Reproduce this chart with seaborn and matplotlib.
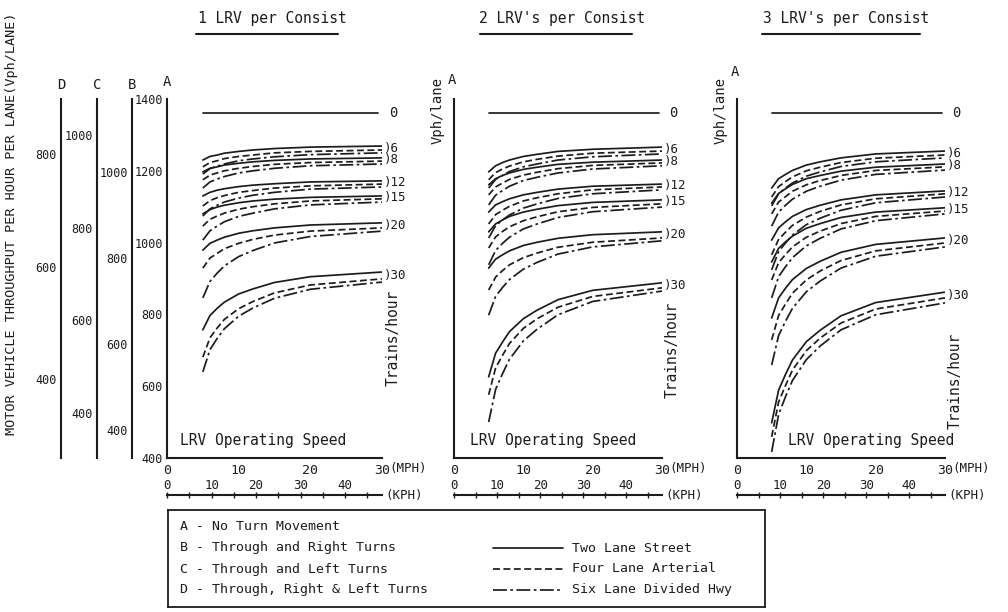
import matplotlib
matplotlib.use("Agg")
import matplotlib.pyplot as plt
from matplotlib.lines import Line2D
import pandas as pd
import seaborn as sns

# speeds (mph) and train frequencies (trains/hour)
mph = [5, 6, 7, 8, 10, 12, 15, 20, 30]
trains = [6, 8, 12, 15, 20, 30]
lanes = ["Two Lane Street", "Four Lane Arterial", "Six Lane Divided Hwy"]
zero_mph = [5, 29.5]
zero_vph = [1360, 1360]

# 1 LRV per consist (Vph/lane on scale A), one row per train frequency
lrv1_two = [[1230, 1240, 1244, 1249, 1254, 1258, 1262, 1266, 1269],
            [1197, 1207, 1211, 1216, 1221, 1225, 1229, 1233, 1236],
            [1130, 1140, 1146, 1150, 1156, 1160, 1164, 1169, 1172],
            [1080, 1092, 1099, 1104, 1111, 1116, 1121, 1126, 1130],
            [979, 998, 1007, 1015, 1026, 1033, 1041, 1049, 1055],
            [757, 797, 817, 834, 857, 871, 889, 905, 918]]
lrv1_four = [[1211, 1223, 1228, 1234, 1240, 1244, 1250, 1254, 1258],
             [1175, 1188, 1194, 1200, 1207, 1212, 1218, 1223, 1227],
             [1102, 1117, 1125, 1131, 1140, 1145, 1152, 1158, 1163],
             [1046, 1065, 1074, 1082, 1093, 1100, 1108, 1116, 1122],
             [929, 957, 970, 983, 998, 1009, 1021, 1032, 1041],
             [681, 735, 762, 786, 816, 836, 860, 882, 899]]
lrv1_six = [[1191, 1206, 1213, 1219, 1228, 1233, 1239, 1245, 1250],
            [1152, 1169, 1177, 1184, 1194, 1200, 1207, 1214, 1219],
            [1074, 1094, 1104, 1113, 1124, 1132, 1140, 1149, 1155],
            [1007, 1033, 1046, 1058, 1073, 1082, 1094, 1105, 1113],
            [846, 892, 915, 935, 961, 978, 999, 1017, 1032],
            [640, 702, 733, 760, 795, 818, 845, 870, 890]]

# 2 LRV's per consist
lrv2_two = [[1197, 1214, 1223, 1230, 1240, 1246, 1254, 1260, 1266],
            [1161, 1178, 1187, 1194, 1204, 1210, 1218, 1224, 1230],
            [1085, 1105, 1114, 1122, 1133, 1140, 1149, 1157, 1163],
            [1030, 1052, 1063, 1073, 1085, 1093, 1103, 1112, 1119],
            [929, 954, 966, 977, 992, 1001, 1012, 1022, 1030],
            [626, 692, 723, 752, 788, 812, 841, 867, 888]]
lrv2_four = [[1175, 1195, 1205, 1213, 1225, 1232, 1241, 1249, 1255],
             [1133, 1155, 1166, 1176, 1188, 1196, 1206, 1215, 1222],
             [1052, 1078, 1090, 1101, 1116, 1125, 1136, 1147, 1155],
             [985, 1016, 1031, 1044, 1061, 1072, 1086, 1098, 1108],
             [868, 904, 922, 938, 958, 971, 987, 1001, 1013],
             [576, 651, 686, 719, 761, 788, 820, 850, 874]]
lrv2_six = [[1152, 1176, 1187, 1198, 1211, 1219, 1230, 1239, 1247],
            [1105, 1132, 1145, 1157, 1173, 1182, 1194, 1205, 1214],
            [1013, 1047, 1063, 1077, 1096, 1108, 1123, 1136, 1147],
            [938, 978, 998, 1015, 1038, 1052, 1070, 1086, 1099],
            [798, 850, 875, 897, 926, 945, 968, 988, 1005],
            [500, 591, 635, 675, 726, 759, 799, 836, 865]]

# 3 LRV's per consist
lrv3_two = [[1152, 1178, 1190, 1201, 1216, 1225, 1236, 1247, 1255],
            [1110, 1137, 1150, 1162, 1178, 1187, 1199, 1210, 1219],
            [1007, 1041, 1058, 1073, 1092, 1104, 1119, 1133, 1144],
            [946, 984, 1002, 1018, 1040, 1053, 1070, 1085, 1097],
            [790, 846, 873, 897, 928, 948, 973, 995, 1013],
            [498, 589, 633, 673, 724, 756, 796, 833, 862]]
lrv3_four = [[1127, 1156, 1170, 1183, 1200, 1210, 1223, 1235, 1244],
             [1080, 1113, 1128, 1143, 1161, 1173, 1187, 1201, 1211],
             [966, 1009, 1029, 1048, 1071, 1087, 1105, 1122, 1136],
             [896, 944, 967, 988, 1015, 1032, 1053, 1073, 1088],
             [729, 797, 829, 859, 896, 921, 950, 977, 999],
             [459, 556, 602, 645, 699, 734, 776, 815, 846]]
lrv3_six = [[1102, 1136, 1152, 1166, 1185, 1197, 1212, 1225, 1236],
            [1046, 1085, 1104, 1121, 1143, 1157, 1174, 1190, 1202],
            [924, 975, 999, 1021, 1050, 1068, 1090, 1111, 1127],
            [846, 905, 933, 958, 991, 1012, 1038, 1061, 1080],
            [659, 741, 781, 817, 863, 893, 929, 962, 988],
            [417, 521, 571, 616, 674, 712, 757, 799, 832]]

titles = ["1 LRV per Consist", "2 LRV's per Consist", "3 LRV's per Consist"]
panels = [(lrv1_two, lrv1_four, lrv1_six),
          (lrv2_two, lrv2_four, lrv2_six),
          (lrv3_two, lrv3_four, lrv3_six)]

# long table for seaborn
rows = []
for p, sets in enumerate(panels):
    for lane, arr in zip(lanes, sets):
        for t, vals in zip(trains, arr):
            for m, v in zip(mph, vals):
                rows.append({"panel": p, "lane": lane, "trains": t, "mph": m, "vph": v})
df = pd.DataFrame(rows)

sns.set_style("white")
plt.rcParams["font.family"] = ["DejaVu Sans Mono"]
INK = "#1c1c1c"
plt.rcParams["text.color"] = INK
plt.rcParams["xtick.color"] = INK
plt.rcParams["ytick.color"] = INK

W, H = 1008, 612
fig = plt.figure(figsize=(W / 100, H / 100), dpi=100)
fig.patch.set_facecolor("white")


def rect(left, top, right, bottom):
    return [left / W, 1 - bottom / H, (right - left) / W, (bottom - top) / H]


def ftext(x, y, s, **kw):
    fig.text(x / W, 1 - y / H, s, **kw)


def hline(x1, x2, y, **kw):
    fig.add_artist(Line2D([x1 / W, x2 / W], [1 - y / H, 1 - y / H],
                          transform=fig.transFigure, color=INK, **kw))


dash_map = {"Two Lane Street": "", "Four Lane Arterial": (4, 2),
            "Six Lane Divided Hwy": (8, 2, 1.5, 2)}
TOP, BOT = 99, 458
panel_x = [(167, 382), (454, 662), (737, 945)]
title_pos = [(272, 196, 338), (562, 480, 632), (846, 762, 920)]
trains_lbl = [734, 701, 614]
speed_lbl_x = [1.8, 2.3, 7.4]
kph_max = 30 * 1.609

for p, (l, r) in enumerate(panel_x):
    ax = fig.add_axes(rect(l, TOP, r, BOT))
    ax.set_facecolor("none")
    sub = df[df["panel"] == p]
    sns.lineplot(data=sub, x="mph", y="vph", style="lane", style_order=lanes,
                 dashes=dash_map, units="trains", estimator=None, color=INK,
                 lw=1.25, legend=False, ax=ax)
    ax.plot(zero_mph, zero_vph, color=INK, lw=1.25)
    ax.set_xlim(0, 30)
    ax.set_ylim(400, 1400)
    ax.set_xlabel("")
    ax.set_ylabel("")
    sns.despine(ax=ax)
    for s in ("left", "bottom"):
        ax.spines[s].set_linewidth(1.5)
        ax.spines[s].set_color(INK)
    ax.set_xticks([0, 10, 20, 30])
    ax.set_xticks([5, 15, 25], minor=True)
    ax.tick_params(axis="x", which="both", direction="inout", length=4,
                   width=1, labelsize=9.5, pad=2)
    if p == 0:
        ax.set_yticks(range(400, 1401, 200))
        ax.set_yticks(range(500, 1400, 200), minor=True)
        ax.tick_params(axis="y", which="both", direction="inout", length=4,
                       width=1, labelsize=8.5, pad=1)
        ftext(167, 82, "A", ha="center", va="center", fontsize=10)
    else:
        ax.set_yticks(range(500, 1400, 100))
        ax.set_yticklabels([])
        ax.tick_params(axis="y", direction="out", length=3, width=1)
        ay = 80 if p == 1 else 72
        ftext(l - 2, ay, "A", ha="center", va="center", fontsize=10)
        ftext(l - 16, 110, "Vph/lane", rotation=90, ha="center",
              va="center", fontsize=10)

    # curve labels
    ax.text(31.0, zero_vph[0], "0", va="center", fontsize=10)
    for k, t in enumerate(trains):
        yv = (panels[p][0][k][-1] + panels[p][1][k][-1]) / 2
        ax.text(30.3, yv, f"){t}", va="center", fontsize=9)
    ax.text(31.5, trains_lbl[p], "Trains/hour", rotation=90, ha="center",
            va="center", fontsize=10.5)
    ax.text(speed_lbl_x[p], 450, "LRV Operating Speed", va="center",
            fontsize=10.5)
    ax.text(31.0, -0.03, "(MPH)", transform=ax.get_xaxis_transform(),
            va="center", fontsize=9)

    # KPH scale
    kx = fig.add_axes(rect(l, 495, r, 495.2))
    kx.set_facecolor("none")
    kx.set_xlim(0, kph_max)
    kx.set_yticks([])
    for s in ("left", "right", "top"):
        kx.spines[s].set_visible(False)
    kx.spines["bottom"].set_linewidth(1.5)
    kx.spines["bottom"].set_color(INK)
    kx.set_xticks([0, 10, 20, 30, 40])
    kx.set_xticks([5, 15, 25, 35, 45], minor=True)
    kx.tick_params(axis="x", which="both", bottom=True, top=False,
                   labelbottom=False, labeltop=True, direction="inout",
                   length=4, width=1, labelsize=9, pad=0)
    ftext(r + 3, 495, "(KPH)", va="center", fontsize=9)

    # title with underline
    cx, u1, u2 = title_pos[p]
    ftext(cx, 18, titles[p], ha="center", va="center", fontsize=10.5)
    hline(u1, u2, 34, lw=1.5)

# extra vehicle scales B, C, D
scales = [("D", 61, (260, 898), [400, 600, 800], [300, 500, 700]),
          ("C", 97, (303, 1078), [400, 600, 800, 1000], [500, 700, 900]),
          ("B", 132, (335, 1170), [400, 600, 800, 1000], [500, 700, 900, 1100])]
for name, x, lim, major, minor in scales:
    sx = fig.add_axes(rect(x, TOP, x + 0.2, BOT))
    sx.set_facecolor("none")
    sx.set_ylim(*lim)
    sx.set_xticks([])
    for s in ("right", "top", "bottom"):
        sx.spines[s].set_visible(False)
    sx.spines["left"].set_linewidth(1.5)
    sx.spines["left"].set_color(INK)
    sx.set_yticks(major)
    sx.set_yticks(minor, minor=True)
    sx.tick_params(axis="y", which="both", direction="inout", length=4,
                   width=1, labelsize=8.5, pad=1)
    ftext(x, 85, name, ha="center", va="center", fontsize=10)

ftext(12, 224, "MOTOR VEHICLE THROUGHPUT PER HOUR PER LANE(Vph/LANE)",
      rotation=90, ha="center", va="center", fontsize=9.7)

# legend box
lg = fig.add_axes(rect(168, 510, 765, 607))
lg.set_xlim(168, 765)
lg.set_ylim(607, 510)
lg.set_xticks([])
lg.set_yticks([])
for s in lg.spines.values():
    s.set_linewidth(1.3)
    s.set_color(INK)
turn_text = ["A - No Turn Movement", "B - Through and Right Turns",
             "C - Through and Left Turns", "D - Through, Right & Left Turns"]
row_y = [527, 548, 569, 590]
for t, yy in zip(turn_text, row_y):
    lg.text(180, yy, t, va="center", fontsize=9.5)
for lane, yy in zip(lanes, row_y[1:]):
    ls = "-" if dash_map[lane] == "" else (0, dash_map[lane])
    lg.plot([493, 563], [yy, yy], color=INK, lw=1.25, linestyle=ls)
    lg.text(572, yy, lane, va="center", fontsize=9.5)

fig.savefig("out.png", dpi=100, facecolor="white")
